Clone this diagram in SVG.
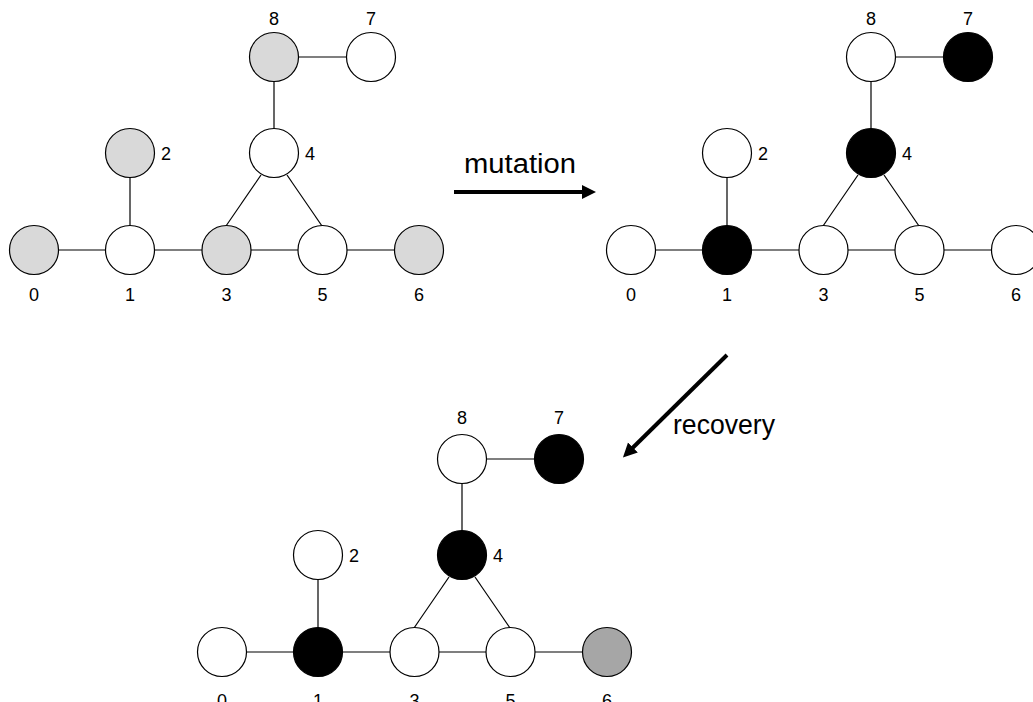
<svg xmlns="http://www.w3.org/2000/svg" width="1033" height="702" viewBox="0 0 1033 702">
<defs>
<style>
.e{stroke:#000;stroke-width:1.2;fill:none}
.n{stroke:#000;stroke-width:1.2}
.w{fill:#fff}
.g{fill:#d9d9d9}
.d{fill:#a6a6a6}
.b{fill:#000}
.l{font-family:"Liberation Sans",Arial,sans-serif;font-size:18px;fill:#000;text-anchor:middle}
.t{font-family:"Liberation Sans",Arial,sans-serif;font-size:27px;fill:#000}
.a{stroke:#000;stroke-width:4;fill:none}
</style>
<marker id="ah" markerUnits="userSpaceOnUse" viewBox="0 0 16 16" markerWidth="16" markerHeight="16" refX="2" refY="8" orient="auto">
<path d="M0,1 L14,8 L0,15 z" fill="#000"/>
</marker>
</defs>
<rect width="1033" height="702" fill="#fff"/>

<g id="connectors">
<!-- graph 1 -->
<g id="g1-edges">
<line class="e" x1="34" y1="250" x2="130" y2="250"/>
<line class="e" x1="130" y1="250" x2="226.5" y2="250"/>
<line class="e" x1="226.5" y1="250" x2="322.5" y2="250"/>
<line class="e" x1="322.5" y1="250" x2="419" y2="250"/>
<line class="e" x1="130" y1="153" x2="130" y2="250"/>
<line class="e" x1="274" y1="57" x2="274" y2="153"/>
<line class="e" x1="274" y1="57" x2="371" y2="57"/>
<line class="e" x1="261" y1="175" x2="226" y2="226"/>
<line class="e" x1="287" y1="175" x2="322" y2="226"/>
</g>
<g id="g2-edges" transform="translate(597,0)">
<line class="e" x1="34" y1="250" x2="130" y2="250"/>
<line class="e" x1="130" y1="250" x2="226.5" y2="250"/>
<line class="e" x1="226.5" y1="250" x2="322.5" y2="250"/>
<line class="e" x1="322.5" y1="250" x2="419" y2="250"/>
<line class="e" x1="130" y1="153" x2="130" y2="250"/>
<line class="e" x1="274" y1="57" x2="274" y2="153"/>
<line class="e" x1="274" y1="57" x2="371" y2="57"/>
<line class="e" x1="261" y1="175" x2="226" y2="226"/>
<line class="e" x1="287" y1="175" x2="322" y2="226"/>
</g>
<g id="g3-edges" transform="translate(188,402)">
<line class="e" x1="34" y1="250" x2="130" y2="250"/>
<line class="e" x1="130" y1="250" x2="226.5" y2="250"/>
<line class="e" x1="226.5" y1="250" x2="322.5" y2="250"/>
<line class="e" x1="322.5" y1="250" x2="419" y2="250"/>
<line class="e" x1="130" y1="153" x2="130" y2="250"/>
<line class="e" x1="274" y1="57" x2="274" y2="153"/>
<line class="e" x1="274" y1="57" x2="371" y2="57"/>
<line class="e" x1="261" y1="175" x2="226" y2="226"/>
<line class="e" x1="287" y1="175" x2="322" y2="226"/>
</g>
<g id="arrow-mutation">
<line class="a" x1="454" y1="192" x2="584" y2="192" marker-end="url(#ah)"/>
<text class="t" x="464" y="173" textLength="112" lengthAdjust="spacingAndGlyphs">mutation</text>
</g>
<g id="arrow-recovery">
<line class="a" x1="727" y1="355" x2="631.5" y2="449" marker-end="url(#ah)"/>
<text class="t" x="673" y="434" textLength="102" lengthAdjust="spacingAndGlyphs">recovery</text>
</g>
</g>

<!-- Graph 1 -->
<g id="graph1">
<g id="g1-n0"><circle class="n g" cx="34" cy="250" r="24.5"/><text class="l" x="34" y="301">0</text></g>
<g id="g1-n1"><circle class="n w" cx="130" cy="250" r="24.5"/><text class="l" x="130" y="301">1</text></g>
<g id="g1-n3"><circle class="n g" cx="226.5" cy="250" r="24.5"/><text class="l" x="226.5" y="301">3</text></g>
<g id="g1-n5"><circle class="n w" cx="322.5" cy="250" r="24.5"/><text class="l" x="322.5" y="301">5</text></g>
<g id="g1-n6"><circle class="n g" cx="419" cy="250" r="24.5"/><text class="l" x="419" y="301">6</text></g>
<g id="g1-n2"><circle class="n g" cx="130" cy="153" r="24.5"/><text class="l" x="166" y="160">2</text></g>
<g id="g1-n4"><circle class="n w" cx="274" cy="153" r="24.5"/><text class="l" x="310" y="160">4</text></g>
<g id="g1-n8"><circle class="n g" cx="274" cy="57" r="24.5"/><text class="l" x="274" y="25">8</text></g>
<g id="g1-n7"><circle class="n w" cx="371" cy="57" r="24.5"/><text class="l" x="371" y="25">7</text></g>
</g>

<!-- Graph 2 -->
<g id="graph2" transform="translate(597,0)">
<g id="g2-n0"><circle class="n w" cx="34" cy="250" r="24.5"/><text class="l" x="34" y="301">0</text></g>
<g id="g2-n1"><circle class="n b" cx="130" cy="250" r="24.5"/><text class="l" x="130" y="301">1</text></g>
<g id="g2-n3"><circle class="n w" cx="226.5" cy="250" r="24.5"/><text class="l" x="226.5" y="301">3</text></g>
<g id="g2-n5"><circle class="n w" cx="322.5" cy="250" r="24.5"/><text class="l" x="322.5" y="301">5</text></g>
<g id="g2-n6"><circle class="n w" cx="419" cy="250" r="24.5"/><text class="l" x="419" y="301">6</text></g>
<g id="g2-n2"><circle class="n w" cx="130" cy="153" r="24.5"/><text class="l" x="166" y="160">2</text></g>
<g id="g2-n4"><circle class="n b" cx="274" cy="153" r="24.5"/><text class="l" x="310" y="160">4</text></g>
<g id="g2-n8"><circle class="n w" cx="274" cy="57" r="24.5"/><text class="l" x="274" y="25">8</text></g>
<g id="g2-n7"><circle class="n b" cx="371" cy="57" r="24.5"/><text class="l" x="371" y="25">7</text></g>
</g>

<!-- Graph 3 -->
<g id="graph3" transform="translate(188,402)">
<g id="g3-n0"><circle class="n w" cx="34" cy="250" r="24.5"/><text class="l" x="34" y="305">0</text></g>
<g id="g3-n1"><circle class="n b" cx="130" cy="250" r="24.5"/><text class="l" x="130" y="305">1</text></g>
<g id="g3-n3"><circle class="n w" cx="226.5" cy="250" r="24.5"/><text class="l" x="226.5" y="305">3</text></g>
<g id="g3-n5"><circle class="n w" cx="322.5" cy="250" r="24.5"/><text class="l" x="322.5" y="305">5</text></g>
<g id="g3-n6"><circle class="n d" cx="419" cy="250" r="24.5"/><text class="l" x="419" y="305">6</text></g>
<g id="g3-n2"><circle class="n w" cx="130" cy="153" r="24.5"/><text class="l" x="166" y="160">2</text></g>
<g id="g3-n4"><circle class="n b" cx="274" cy="153" r="24.5"/><text class="l" x="310" y="160">4</text></g>
<g id="g3-n8"><circle class="n w" cx="274" cy="57" r="24.5"/><text class="l" x="274" y="22">8</text></g>
<g id="g3-n7"><circle class="n b" cx="371" cy="57" r="24.5"/><text class="l" x="371" y="22">7</text></g>
</g>
</svg>
